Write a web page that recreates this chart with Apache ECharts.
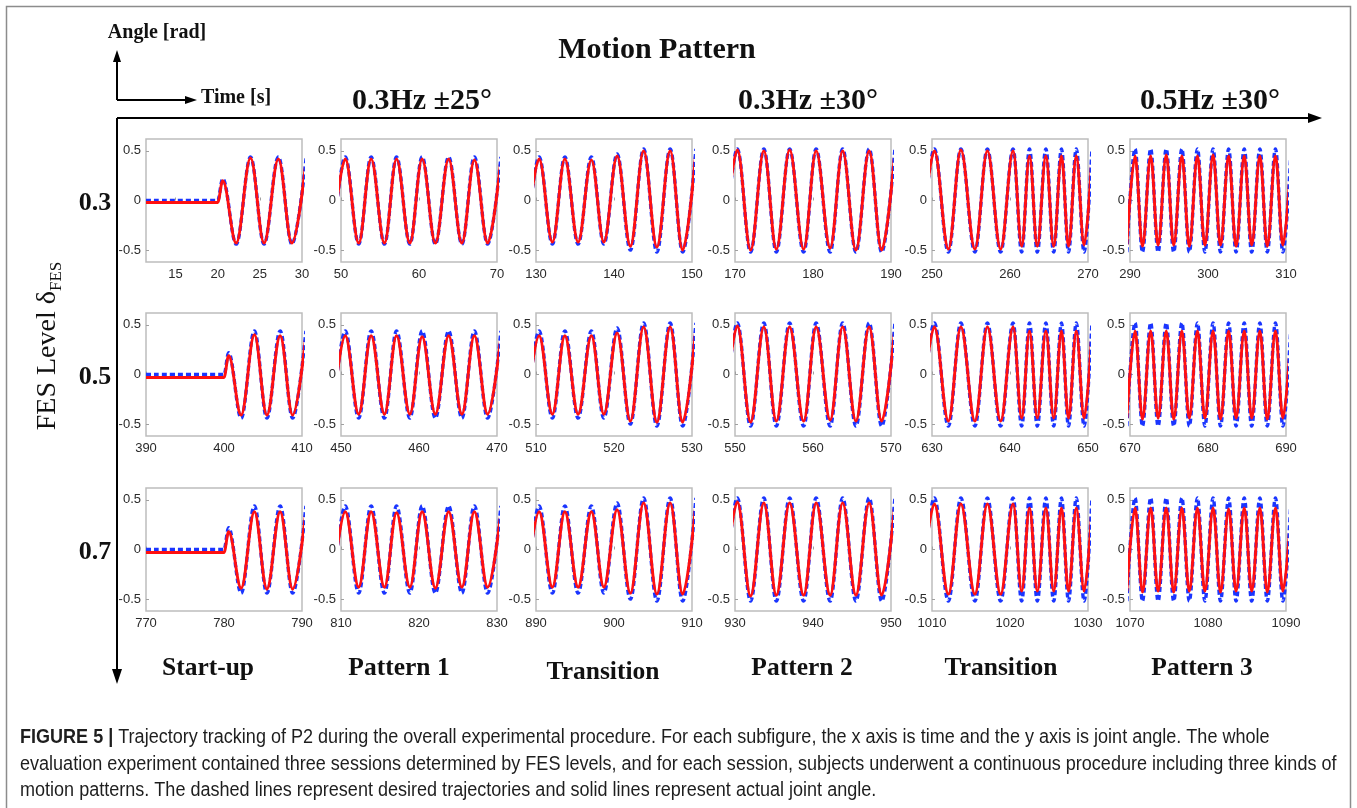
<!DOCTYPE html>
<html>
<head>
<meta charset="utf-8">
<title>Trajectory tracking of P2</title>
<script src="https://cdn.jsdelivr.net/npm/echarts@6/dist/echarts.min.js"></script>
<style>
  html, body { margin: 0; padding: 0; background: #ffffff; }
  #chart { width: 1357px; height: 808px; }
</style>
</head>
<body>
<div id="chart"></div>
<script>
// ---- data --------------------------------------------------------------

// FES level of each session (rows) and the phase of each column
const fesLevels = ['0.3', '0.5', '0.7'];
const phaseNames = ['Start-up', 'Pattern 1', 'Transition', 'Pattern 2', 'Transition', 'Pattern 3'];
const motionPatterns = ['0.3Hz \u00b125\u00b0', '0.3Hz \u00b130\u00b0', '0.5Hz \u00b130\u00b0'];

// time window of every subplot [s]
const windowStart = [
  [11.5, 50, 130, 170, 250, 290],
  [390, 450, 510, 550, 630, 670],
  [770, 810, 890, 930, 1010, 1070]
];
const windowEnd = [
  [30, 70, 150, 190, 270, 310],
  [410, 470, 530, 570, 650, 690],
  [790, 830, 910, 950, 1030, 1090]
];
const xTicks = [
  [[15, 20, 25, 30], [50, 60, 70], [130, 140, 150], [170, 180, 190], [250, 260, 270], [290, 300, 310]],
  [[390, 400, 410], [450, 460, 470], [510, 520, 530], [550, 560, 570], [630, 640, 650], [670, 680, 690]],
  [[770, 780, 790], [810, 820, 830], [890, 900, 910], [930, 940, 950], [1010, 1020, 1030], [1070, 1080, 1090]]
];
const yTicks = [-0.5, 0, 0.5];

// start-up: stimulation onset of each session [s]
const stimulusOnset = [20, 400, 780];
// start-up turning points, seconds after onset
const startupTurns = [0, 0.6, 2.2, 3.9, 5.5, 7.2, 8.8, 10.5];
const startupDesired = [0, 0.22, -0.44, 0.44, -0.44, 0.44, -0.44, 0.44];
const startupActual = [
  [-0.02, 0.20, -0.43, 0.43, -0.43, 0.42, -0.43, 0.42],
  [-0.03, 0.19, -0.41, 0.40, -0.41, 0.39, -0.41, 0.40],
  [-0.03, 0.18, -0.39, 0.38, -0.40, 0.38, -0.40, 0.39]
];

// pattern 1 (0.3 Hz, +-25 deg): turning points, seconds after window start
const pattern1Turns = [-1.1, 0.55, 2.27, 3.86, 5.57, 7.12, 8.83, 10.4, 12.1, 13.8, 15.5, 17.1, 18.8, 20.5];
const pattern1Desired = [-0.44, 0.44, -0.44, 0.44, -0.44, 0.44, -0.44, 0.44, -0.44, 0.44, -0.44, 0.44, -0.44, 0.44];
const pattern1Actual = [
  [-0.42, 0.42, -0.43, 0.42, -0.43, 0.42, -0.43, 0.42, -0.43, 0.42, -0.43, 0.41, -0.43, 0.42],
  [-0.40, 0.39, -0.40, 0.39, -0.40, 0.39, -0.40, 0.38, -0.40, 0.39, -0.40, 0.39, -0.40, 0.39],
  [-0.38, 0.38, -0.38, 0.38, -0.38, 0.37, -0.38, 0.38, -0.39, 0.38, -0.38, 0.38, -0.38, 0.38]
];

// transition 1 (amplitude +-25 -> +-30 deg)
const transition1Turns = [-1.25, 0.4, 2.1, 3.7, 5.4, 7.1, 8.7, 10.4, 12.1, 13.8, 15.5, 17.2, 18.8, 20.5];
const transition1Desired = [-0.44, 0.44, -0.44, 0.44, -0.44, 0.44, -0.44, 0.47, -0.50, 0.52, -0.52, 0.52, -0.52, 0.52];
const transition1Actual = [
  [-0.42, 0.42, -0.42, 0.42, -0.42, 0.41, -0.42, 0.45, -0.46, 0.50, -0.47, 0.50, -0.50, 0.50],
  [-0.40, 0.39, -0.40, 0.39, -0.40, 0.39, -0.40, 0.42, -0.47, 0.48, -0.48, 0.48, -0.48, 0.48],
  [-0.38, 0.38, -0.38, 0.38, -0.38, 0.38, -0.38, 0.40, -0.44, 0.47, -0.45, 0.47, -0.45, 0.47]
];

// pattern 2 (0.3 Hz, +-30 deg)
const pattern2Turns = [-1.4, 0.3, 2.0, 3.7, 5.3, 7.0, 8.8, 10.4, 12.2, 13.8, 15.5, 17.2, 18.8, 20.5];
const pattern2Desired = [-0.52, 0.52, -0.52, 0.52, -0.52, 0.52, -0.52, 0.52, -0.52, 0.52, -0.52, 0.52, -0.52, 0.52];
const pattern2Actual = [
  [-0.49, 0.51, -0.50, 0.50, -0.49, 0.51, -0.49, 0.50, -0.48, 0.50, -0.50, 0.50, -0.50, 0.50],
  [-0.47, 0.49, -0.48, 0.48, -0.47, 0.48, -0.47, 0.48, -0.46, 0.48, -0.47, 0.48, -0.47, 0.48],
  [-0.46, 0.48, -0.47, 0.47, -0.46, 0.47, -0.46, 0.47, -0.46, 0.47, -0.46, 0.47, -0.46, 0.47]
];

// transition 2 (0.3 Hz -> 0.5 Hz)
const transition2Turns = [-1.4, 0.3, 2.1, 3.7, 5.5, 7.1, 8.8, 10.4, 11.5, 12.5, 13.5, 14.6, 15.6, 16.6, 17.5, 18.5, 19.5, 20.5];
const transition2Desired = [-0.52, 0.52, -0.52, 0.52, -0.52, 0.52, -0.52, 0.52, -0.52, 0.52, -0.52, 0.52, -0.52, 0.52, -0.52, 0.52, -0.52, 0.52];
const transition2Actual = [
  [-0.49, 0.50, -0.49, 0.51, -0.49, 0.50, -0.49, 0.50, -0.46, 0.45, -0.46, 0.45, -0.46, 0.45, -0.46, 0.45, -0.45, 0.45],
  [-0.47, 0.48, -0.47, 0.48, -0.47, 0.48, -0.47, 0.48, -0.44, 0.44, -0.44, 0.44, -0.44, 0.44, -0.44, 0.44, -0.44, 0.44],
  [-0.45, 0.46, -0.45, 0.46, -0.45, 0.46, -0.45, 0.46, -0.42, 0.42, -0.42, 0.42, -0.42, 0.42, -0.42, 0.42, -0.42, 0.42]
];

// pattern 3 (0.5 Hz, +-30 deg)
const pattern3Turns = [-0.4, 0.65, 1.6, 2.65, 3.6, 4.65, 5.6, 6.65, 7.6, 8.65, 9.6, 10.65, 11.6, 12.65, 13.6, 14.65, 15.6, 16.65, 17.6, 18.65, 19.6, 20.65];
const pattern3Desired = [-0.52, 0.52, -0.52, 0.52, -0.52, 0.52, -0.52, 0.52, -0.52, 0.52, -0.52, 0.52, -0.52, 0.52, -0.52, 0.52, -0.52, 0.52, -0.52, 0.52, -0.52, 0.52];
const pattern3Actual = [
  [-0.45, 0.45, -0.46, 0.45, -0.45, 0.46, -0.45, 0.45, -0.46, 0.45, -0.45, 0.46, -0.45, 0.45, -0.46, 0.45, -0.45, 0.45, -0.46, 0.45, -0.45, 0.45],
  [-0.44, 0.44, -0.45, 0.44, -0.44, 0.44, -0.45, 0.44, -0.44, 0.44, -0.44, 0.44, -0.45, 0.44, -0.44, 0.44, -0.44, 0.44, -0.45, 0.44, -0.44, 0.44],
  [-0.42, 0.42, -0.43, 0.42, -0.42, 0.42, -0.43, 0.42, -0.42, 0.42, -0.42, 0.42, -0.43, 0.41, -0.42, 0.42, -0.42, 0.42, -0.43, 0.42, -0.42, 0.42]
];

const captionLines = [
  '{b|FIGURE 5 |} Trajectory tracking of P2 during the overall experimental procedure. For each subfigure, the x axis is time and the y axis is joint angle. The whole',
  'evaluation experiment contained three sessions determined by FES levels, and for each session, subjects underwent a continuous procedure including three kinds of',
  'motion patterns. The dashed lines represent desired trajectories and solid lines represent actual joint angle.'
];

// ---- layout -------------------------------------------------------------

const colLeft = [146, 341, 536, 735, 932, 1130];
const rowTop = [139, 313, 488];
const plotW = 156;
const plotH = 123;

const SERIF = '"Liberation Serif", "DejaVu Serif", serif';
const SANS = '"Liberation Sans", Arial, sans-serif';

const phaseTurns = [null, pattern1Turns, transition1Turns, pattern2Turns, transition2Turns, pattern3Turns];
const phaseDesired = [startupDesired, pattern1Desired, transition1Desired, pattern2Desired, transition2Desired, pattern3Desired];
const phaseActual = [startupActual, pattern1Actual, transition1Actual, pattern2Actual, transition2Actual, pattern3Actual];

const grids = [], xAxes = [], yAxes = [], series = [];

for (let r = 0; r < 3; r++) {
  for (let c = 0; c < 6; c++) {
    const idx = r * 6 + c;
    grids.push({
      left: colLeft[c], top: rowTop[r], width: plotW, height: plotH,
      show: true, borderColor: '#bdbdbd', borderWidth: 1.5, backgroundColor: '#ffffff'
    });
    xAxes.push({
      gridIndex: idx, type: 'value',
      min: windowStart[r][c], max: windowEnd[r][c],
      axisLine: { show: false },
      splitLine: { show: false },
      axisTick: { show: true, inside: true, length: 3, customValues: xTicks[r][c], lineStyle: { color: '#a0a0a0' } },
      axisLabel: {
        customValues: xTicks[r][c], margin: 6, fontSize: 13, color: '#2a2a2a',
        fontFamily: SANS, formatter: v => String(v)
      }
    });
    yAxes.push({
      gridIndex: idx, type: 'value', min: -0.62, max: 0.62,
      axisLine: { show: false },
      splitLine: { show: false },
      axisTick: { show: true, inside: true, length: 3, customValues: yTicks, lineStyle: { color: '#a0a0a0' } },
      axisLabel: {
        customValues: yTicks, margin: 5, fontSize: 13, color: '#2a2a2a',
        fontFamily: SANS, formatter: v => String(v)
      }
    });

    // turning points of the desired and actual trajectories
    let times, des, act;
    if (c === 0) {
      const t0 = stimulusOnset[r];
      times = [windowStart[r][0]].concat(startupTurns.map(t => t0 + t));
      des = [startupDesired[0]].concat(startupDesired);
      act = [startupActual[r][0]].concat(startupActual[r]);
    } else {
      times = phaseTurns[c].map(t => windowStart[r][c] + t);
      des = phaseDesired[c];
      act = phaseActual[c][r];
    }
    const common = {
      type: 'line', xAxisIndex: idx, yAxisIndex: idx,
      symbol: 'none', showSymbol: false, smooth: 0.36, smoothMonotone: 'x',
      clip: true, silent: true, animation: false
    };
    series.push(Object.assign({}, common, {
      name: 'desired',
      data: times.map((t, i) => [t, des[i]]),
      lineStyle: { color: '#1a35ff', width: 3.4, type: [5, 3] },
      z: 2
    }));
    series.push(Object.assign({}, common, {
      name: 'actual',
      data: times.map((t, i) => [t, act[i]]),
      lineStyle: { color: '#ff1010', width: 2.9, type: 'solid' },
      z: 3
    }));
  }
}

// ---- annotations -------------------------------------------------------------

function text(str, x, y, font, extra) {
  return Object.assign({
    type: 'text', x: x, y: y, silent: true,
    style: {
      text: str, font: font, fill: '#111',
      align: 'center', verticalAlign: 'middle',
      textAlign: 'center', textVerticalAlign: 'middle'
    }
  }, extra || {});
}
function line(x1, y1, x2, y2) {
  return { type: 'line', silent: true, shape: { x1, y1, x2, y2 }, style: { stroke: '#000', lineWidth: 2 } };
}
function head(points) {
  return { type: 'polygon', silent: true, shape: { points }, style: { fill: '#000' } };
}

const graphics = [
  { type: 'rect', silent: true, shape: { x: 6.5, y: 6.5, width: 1344, height: 830 }, style: { fill: 'none', stroke: '#8c8c8c', lineWidth: 1.5 } },
  // small key: angle / time
  line(117, 100, 117, 60), head([[117, 50], [113, 62], [121, 62]]),
  line(117, 100, 187, 100), head([[197, 100], [185, 96], [185, 104]]),
  text('Angle [rad]', 157, 33, 'bold 20px ' + SERIF),
  text('Time [s]', 236, 98, 'bold 20px ' + SERIF),
  // main axes
  line(117, 118, 1310, 118), head([[1322, 118], [1308, 113], [1308, 123]]),
  line(117, 118, 117, 670), head([[117, 684], [112, 669], [122, 669]]),
  text('Motion Pattern', 657, 50, 'bold 30px ' + SERIF),
  text(motionPatterns[0], 422, 101, 'bold 30px ' + SERIF),
  text(motionPatterns[1], 808, 101, 'bold 30px ' + SERIF),
  text(motionPatterns[2], 1210, 101, 'bold 30px ' + SERIF),
  {
    type: 'text', x: 48, y: 346, rotation: Math.PI / 2, silent: true,
    style: {
      text: '{a|FES Level \u03b4}{s|FES}',
      align: 'center', verticalAlign: 'middle', textAlign: 'center', textVerticalAlign: 'middle',
      fill: '#111',
      rich: {
        a: { fontSize: 28, fontFamily: SERIF, lineHeight: 34, verticalAlign: 'middle', fill: '#111' },
        s: { fontSize: 17, fontFamily: SERIF, lineHeight: 34, verticalAlign: 'bottom', fill: '#111' }
      }
    }
  }
];
fesLevels.forEach((lv, r) => {
  graphics.push(text(lv, 95, rowTop[r] + 64, 'bold 26px ' + SERIF));
});
const phaseLabelX = [208, 399, 603, 802, 1001, 1202];
const phaseLabelY = [668, 668, 672, 668, 668, 668];
phaseNames.forEach((p, c) => {
  graphics.push(text(p, phaseLabelX[c], phaseLabelY[c], 'bold 25.5px ' + SERIF));
});
// caption set in a slightly condensed sans
const captionY = [738, 765, 791];
captionLines.forEach((ln, i) => {
  graphics.push({
    type: 'text', x: 20, y: captionY[i], scaleX: 0.925, scaleY: 1, silent: true,
    style: {
      text: ln, font: '19.5px ' + SANS, fill: '#1e1e1e',
      align: 'left', verticalAlign: 'middle', textAlign: 'left', textVerticalAlign: 'middle',
      rich: { b: { fontWeight: 'bold', fontSize: 19.5, fontFamily: SANS, fill: '#1e1e1e' } }
    }
  });
});

const chart = echarts.init(document.getElementById('chart'), null, { renderer: 'canvas' });
chart.setOption({
  animation: false,
  backgroundColor: '#ffffff',
  grid: grids,
  xAxis: xAxes,
  yAxis: yAxes,
  series: series,
  graphic: { elements: graphics }
});
</script>
</body>
</html>
